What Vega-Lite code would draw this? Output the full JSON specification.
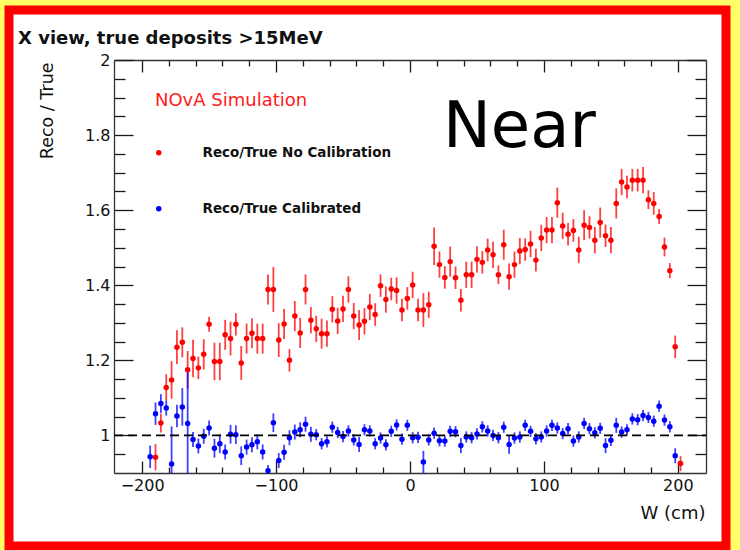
{
"$schema": "https://vega.github.io/schema/vega-lite/v6.json",
"autosize": {"type": "none"},
"width": 717,
"height": 536,
"padding": {"left": 9, "top": 10, "right": 14, "bottom": 4},
"background": "#ffff66",
"title": {"text": "X view, true deposits >15MeV", "anchor": "start", "frame": "group", "offset": -38, "dx": 9, "font": "DejaVu Sans", "fontSize": 18, "fontWeight": "bold", "color": "#111"},
"config": {
  "view": {"fill": "white", "stroke": "#ff0000", "strokeWidth": 9},
  "axis": {"grid": false, "labelFont": "DejaVu Sans", "labelFontSize": 16, "labelColor": "#111", "tickColor": "#1a1a1a", "tickWidth": 1.3, "domainColor": "#333", "domainWidth": 1.3, "titleFont": "DejaVu Sans", "titleFontSize": 17.5, "titleFontWeight": "normal", "titleColor": "#111", "labelFlush": false, "labelOverlap": false}
},
"datasets": {
  "main": [
{"W":-190,"ratio":0.942,"err":0.035,"series":"Reco/True No Calibration"},
{"W":-186,"ratio":1.033,"err":0.025,"series":"Reco/True No Calibration"},
{"W":-182,"ratio":1.128,"err":0.035,"series":"Reco/True No Calibration"},
{"W":-178,"ratio":1.148,"err":0.05,"series":"Reco/True No Calibration"},
{"W":-174,"ratio":1.235,"err":0.045,"series":"Reco/True No Calibration"},
{"W":-170,"ratio":1.248,"err":0.04,"series":"Reco/True No Calibration"},
{"W":-166,"ratio":1.175,"err":0.05,"series":"Reco/True No Calibration"},
{"W":-162,"ratio":1.205,"err":0.05,"series":"Reco/True No Calibration"},
{"W":-158,"ratio":1.18,"err":0.03,"series":"Reco/True No Calibration"},
{"W":-154,"ratio":1.216,"err":0.04,"series":"Reco/True No Calibration"},
{"W":-150,"ratio":1.296,"err":0.02,"series":"Reco/True No Calibration"},
{"W":-146,"ratio":1.197,"err":0.05,"series":"Reco/True No Calibration"},
{"W":-142,"ratio":1.197,"err":0.05,"series":"Reco/True No Calibration"},
{"W":-138,"ratio":1.268,"err":0.04,"series":"Reco/True No Calibration"},
{"W":-134,"ratio":1.258,"err":0.045,"series":"Reco/True No Calibration"},
{"W":-130,"ratio":1.296,"err":0.03,"series":"Reco/True No Calibration"},
{"W":-126,"ratio":1.193,"err":0.045,"series":"Reco/True No Calibration"},
{"W":-122,"ratio":1.258,"err":0.04,"series":"Reco/True No Calibration"},
{"W":-118,"ratio":1.272,"err":0.04,"series":"Reco/True No Calibration"},
{"W":-114,"ratio":1.258,"err":0.04,"series":"Reco/True No Calibration"},
{"W":-110,"ratio":1.258,"err":0.04,"series":"Reco/True No Calibration"},
{"W":-106,"ratio":1.389,"err":0.04,"series":"Reco/True No Calibration"},
{"W":-102,"ratio":1.389,"err":0.06,"series":"Reco/True No Calibration"},
{"W":-98,"ratio":1.254,"err":0.045,"series":"Reco/True No Calibration"},
{"W":-94,"ratio":1.297,"err":0.04,"series":"Reco/True No Calibration"},
{"W":-90,"ratio":1.2,"err":0.03,"series":"Reco/True No Calibration"},
{"W":-86,"ratio":1.318,"err":0.04,"series":"Reco/True No Calibration"},
{"W":-82,"ratio":1.273,"err":0.04,"series":"Reco/True No Calibration"},
{"W":-78,"ratio":1.389,"err":0.04,"series":"Reco/True No Calibration"},
{"W":-74,"ratio":1.307,"err":0.035,"series":"Reco/True No Calibration"},
{"W":-70,"ratio":1.284,"err":0.035,"series":"Reco/True No Calibration"},
{"W":-66,"ratio":1.271,"err":0.04,"series":"Reco/True No Calibration"},
{"W":-62,"ratio":1.271,"err":0.035,"series":"Reco/True No Calibration"},
{"W":-58,"ratio":1.336,"err":0.035,"series":"Reco/True No Calibration"},
{"W":-54,"ratio":1.305,"err":0.035,"series":"Reco/True No Calibration"},
{"W":-50,"ratio":1.337,"err":0.035,"series":"Reco/True No Calibration"},
{"W":-46,"ratio":1.389,"err":0.035,"series":"Reco/True No Calibration"},
{"W":-42,"ratio":1.318,"err":0.035,"series":"Reco/True No Calibration"},
{"W":-38,"ratio":1.294,"err":0.04,"series":"Reco/True No Calibration"},
{"W":-34,"ratio":1.304,"err":0.035,"series":"Reco/True No Calibration"},
{"W":-30,"ratio":1.342,"err":0.035,"series":"Reco/True No Calibration"},
{"W":-26,"ratio":1.322,"err":0.03,"series":"Reco/True No Calibration"},
{"W":-22,"ratio":1.399,"err":0.03,"series":"Reco/True No Calibration"},
{"W":-18,"ratio":1.362,"err":0.035,"series":"Reco/True No Calibration"},
{"W":-14,"ratio":1.39,"err":0.03,"series":"Reco/True No Calibration"},
{"W":-10,"ratio":1.386,"err":0.035,"series":"Reco/True No Calibration"},
{"W":-6,"ratio":1.334,"err":0.03,"series":"Reco/True No Calibration"},
{"W":-2,"ratio":1.365,"err":0.03,"series":"Reco/True No Calibration"},
{"W":2,"ratio":1.401,"err":0.035,"series":"Reco/True No Calibration"},
{"W":6,"ratio":1.334,"err":0.03,"series":"Reco/True No Calibration"},
{"W":10,"ratio":1.334,"err":0.045,"series":"Reco/True No Calibration"},
{"W":14,"ratio":1.348,"err":0.035,"series":"Reco/True No Calibration"},
{"W":18,"ratio":1.504,"err":0.05,"series":"Reco/True No Calibration"},
{"W":22,"ratio":1.455,"err":0.035,"series":"Reco/True No Calibration"},
{"W":26,"ratio":1.421,"err":0.03,"series":"Reco/True No Calibration"},
{"W":30,"ratio":1.463,"err":0.04,"series":"Reco/True No Calibration"},
{"W":34,"ratio":1.42,"err":0.03,"series":"Reco/True No Calibration"},
{"W":38,"ratio":1.36,"err":0.03,"series":"Reco/True No Calibration"},
{"W":42,"ratio":1.428,"err":0.035,"series":"Reco/True No Calibration"},
{"W":46,"ratio":1.428,"err":0.035,"series":"Reco/True No Calibration"},
{"W":50,"ratio":1.469,"err":0.035,"series":"Reco/True No Calibration"},
{"W":54,"ratio":1.461,"err":0.03,"series":"Reco/True No Calibration"},
{"W":58,"ratio":1.494,"err":0.03,"series":"Reco/True No Calibration"},
{"W":62,"ratio":1.481,"err":0.035,"series":"Reco/True No Calibration"},
{"W":66,"ratio":1.428,"err":0.025,"series":"Reco/True No Calibration"},
{"W":70,"ratio":1.508,"err":0.04,"series":"Reco/True No Calibration"},
{"W":74,"ratio":1.423,"err":0.035,"series":"Reco/True No Calibration"},
{"W":78,"ratio":1.455,"err":0.035,"series":"Reco/True No Calibration"},
{"W":82,"ratio":1.491,"err":0.035,"series":"Reco/True No Calibration"},
{"W":86,"ratio":1.495,"err":0.03,"series":"Reco/True No Calibration"},
{"W":90,"ratio":1.51,"err":0.035,"series":"Reco/True No Calibration"},
{"W":94,"ratio":1.467,"err":0.03,"series":"Reco/True No Calibration"},
{"W":98,"ratio":1.526,"err":0.035,"series":"Reco/True No Calibration"},
{"W":102,"ratio":1.547,"err":0.035,"series":"Reco/True No Calibration"},
{"W":106,"ratio":1.547,"err":0.035,"series":"Reco/True No Calibration"},
{"W":110,"ratio":1.62,"err":0.04,"series":"Reco/True No Calibration"},
{"W":114,"ratio":1.558,"err":0.035,"series":"Reco/True No Calibration"},
{"W":118,"ratio":1.536,"err":0.03,"series":"Reco/True No Calibration"},
{"W":122,"ratio":1.546,"err":0.03,"series":"Reco/True No Calibration"},
{"W":126,"ratio":1.494,"err":0.035,"series":"Reco/True No Calibration"},
{"W":130,"ratio":1.56,"err":0.04,"series":"Reco/True No Calibration"},
{"W":134,"ratio":1.554,"err":0.03,"series":"Reco/True No Calibration"},
{"W":138,"ratio":1.52,"err":0.035,"series":"Reco/True No Calibration"},
{"W":142,"ratio":1.567,"err":0.04,"series":"Reco/True No Calibration"},
{"W":146,"ratio":1.532,"err":0.03,"series":"Reco/True No Calibration"},
{"W":150,"ratio":1.52,"err":0.035,"series":"Reco/True No Calibration"},
{"W":154,"ratio":1.618,"err":0.04,"series":"Reco/True No Calibration"},
{"W":158,"ratio":1.675,"err":0.035,"series":"Reco/True No Calibration"},
{"W":162,"ratio":1.662,"err":0.03,"series":"Reco/True No Calibration"},
{"W":166,"ratio":1.68,"err":0.03,"series":"Reco/True No Calibration"},
{"W":170,"ratio":1.68,"err":0.03,"series":"Reco/True No Calibration"},
{"W":174,"ratio":1.68,"err":0.035,"series":"Reco/True No Calibration"},
{"W":178,"ratio":1.628,"err":0.025,"series":"Reco/True No Calibration"},
{"W":182,"ratio":1.618,"err":0.03,"series":"Reco/True No Calibration"},
{"W":186,"ratio":1.583,"err":0.02,"series":"Reco/True No Calibration"},
{"W":190,"ratio":1.502,"err":0.025,"series":"Reco/True No Calibration"},
{"W":194,"ratio":1.439,"err":0.02,"series":"Reco/True No Calibration"},
{"W":198,"ratio":1.236,"err":0.03,"series":"Reco/True No Calibration"},
{"W":202,"ratio":0.925,"err":0.02,"series":"Reco/True No Calibration"},
{"W":-194,"ratio":0.943,"err":0.03,"series":"Reco/True Calibrated"},
{"W":-190,"ratio":1.058,"err":0.03,"series":"Reco/True Calibrated"},
{"W":-186,"ratio":1.085,"err":0.025,"series":"Reco/True Calibrated"},
{"W":-182,"ratio":1.073,"err":0.02,"series":"Reco/True Calibrated"},
{"W":-178,"ratio":0.924,"err":0.1,"series":"Reco/True Calibrated"},
{"W":-174,"ratio":1.052,"err":0.03,"series":"Reco/True Calibrated"},
{"W":-170,"ratio":1.076,"err":0.05,"series":"Reco/True Calibrated"},
{"W":-166,"ratio":1.032,"err":0.14,"series":"Reco/True Calibrated"},
{"W":-162,"ratio":0.989,"err":0.02,"series":"Reco/True Calibrated"},
{"W":-158,"ratio":0.972,"err":0.02,"series":"Reco/True Calibrated"},
{"W":-154,"ratio":0.998,"err":0.02,"series":"Reco/True Calibrated"},
{"W":-150,"ratio":1.02,"err":0.02,"series":"Reco/True Calibrated"},
{"W":-146,"ratio":0.966,"err":0.025,"series":"Reco/True Calibrated"},
{"W":-142,"ratio":0.978,"err":0.025,"series":"Reco/True Calibrated"},
{"W":-138,"ratio":0.956,"err":0.02,"series":"Reco/True Calibrated"},
{"W":-134,"ratio":1.003,"err":0.025,"series":"Reco/True Calibrated"},
{"W":-130,"ratio":1.002,"err":0.025,"series":"Reco/True Calibrated"},
{"W":-126,"ratio":0.946,"err":0.025,"series":"Reco/True Calibrated"},
{"W":-122,"ratio":0.969,"err":0.02,"series":"Reco/True Calibrated"},
{"W":-118,"ratio":0.975,"err":0.02,"series":"Reco/True Calibrated"},
{"W":-114,"ratio":0.983,"err":0.02,"series":"Reco/True Calibrated"},
{"W":-110,"ratio":0.956,"err":0.02,"series":"Reco/True Calibrated"},
{"W":-106,"ratio":0.906,"err":0.015,"series":"Reco/True Calibrated"},
{"W":-102,"ratio":1.034,"err":0.025,"series":"Reco/True Calibrated"},
{"W":-98,"ratio":0.933,"err":0.02,"series":"Reco/True Calibrated"},
{"W":-94,"ratio":0.955,"err":0.02,"series":"Reco/True Calibrated"},
{"W":-90,"ratio":0.994,"err":0.02,"series":"Reco/True Calibrated"},
{"W":-86,"ratio":1.009,"err":0.02,"series":"Reco/True Calibrated"},
{"W":-82,"ratio":1.015,"err":0.02,"series":"Reco/True Calibrated"},
{"W":-78,"ratio":1.03,"err":0.02,"series":"Reco/True Calibrated"},
{"W":-74,"ratio":1.003,"err":0.02,"series":"Reco/True Calibrated"},
{"W":-70,"ratio":1.002,"err":0.015,"series":"Reco/True Calibrated"},
{"W":-66,"ratio":0.978,"err":0.015,"series":"Reco/True Calibrated"},
{"W":-62,"ratio":0.983,"err":0.015,"series":"Reco/True Calibrated"},
{"W":-58,"ratio":1.022,"err":0.015,"series":"Reco/True Calibrated"},
{"W":-54,"ratio":1.008,"err":0.015,"series":"Reco/True Calibrated"},
{"W":-50,"ratio":0.997,"err":0.015,"series":"Reco/True Calibrated"},
{"W":-46,"ratio":1.012,"err":0.015,"series":"Reco/True Calibrated"},
{"W":-42,"ratio":0.988,"err":0.015,"series":"Reco/True Calibrated"},
{"W":-38,"ratio":0.976,"err":0.02,"series":"Reco/True Calibrated"},
{"W":-34,"ratio":1.015,"err":0.015,"series":"Reco/True Calibrated"},
{"W":-30,"ratio":1.012,"err":0.015,"series":"Reco/True Calibrated"},
{"W":-26,"ratio":0.978,"err":0.015,"series":"Reco/True Calibrated"},
{"W":-22,"ratio":0.993,"err":0.015,"series":"Reco/True Calibrated"},
{"W":-18,"ratio":0.975,"err":0.015,"series":"Reco/True Calibrated"},
{"W":-14,"ratio":1.011,"err":0.015,"series":"Reco/True Calibrated"},
{"W":-10,"ratio":1.028,"err":0.015,"series":"Reco/True Calibrated"},
{"W":-6,"ratio":0.99,"err":0.015,"series":"Reco/True Calibrated"},
{"W":-2,"ratio":1.027,"err":0.015,"series":"Reco/True Calibrated"},
{"W":2,"ratio":0.994,"err":0.015,"series":"Reco/True Calibrated"},
{"W":6,"ratio":0.995,"err":0.015,"series":"Reco/True Calibrated"},
{"W":10,"ratio":0.929,"err":0.03,"series":"Reco/True Calibrated"},
{"W":14,"ratio":0.988,"err":0.015,"series":"Reco/True Calibrated"},
{"W":18,"ratio":1.006,"err":0.015,"series":"Reco/True Calibrated"},
{"W":22,"ratio":0.986,"err":0.015,"series":"Reco/True Calibrated"},
{"W":26,"ratio":0.985,"err":0.015,"series":"Reco/True Calibrated"},
{"W":30,"ratio":1.011,"err":0.015,"series":"Reco/True Calibrated"},
{"W":34,"ratio":1.01,"err":0.015,"series":"Reco/True Calibrated"},
{"W":38,"ratio":0.973,"err":0.02,"series":"Reco/True Calibrated"},
{"W":42,"ratio":0.996,"err":0.015,"series":"Reco/True Calibrated"},
{"W":46,"ratio":0.994,"err":0.015,"series":"Reco/True Calibrated"},
{"W":50,"ratio":1.004,"err":0.015,"series":"Reco/True Calibrated"},
{"W":54,"ratio":1.023,"err":0.015,"series":"Reco/True Calibrated"},
{"W":58,"ratio":1.012,"err":0.015,"series":"Reco/True Calibrated"},
{"W":62,"ratio":1.0,"err":0.015,"series":"Reco/True Calibrated"},
{"W":66,"ratio":0.994,"err":0.015,"series":"Reco/True Calibrated"},
{"W":70,"ratio":1.022,"err":0.015,"series":"Reco/True Calibrated"},
{"W":74,"ratio":0.976,"err":0.025,"series":"Reco/True Calibrated"},
{"W":78,"ratio":0.993,"err":0.015,"series":"Reco/True Calibrated"},
{"W":82,"ratio":0.996,"err":0.015,"series":"Reco/True Calibrated"},
{"W":86,"ratio":1.027,"err":0.015,"series":"Reco/True Calibrated"},
{"W":90,"ratio":1.011,"err":0.015,"series":"Reco/True Calibrated"},
{"W":94,"ratio":0.991,"err":0.015,"series":"Reco/True Calibrated"},
{"W":98,"ratio":0.996,"err":0.015,"series":"Reco/True Calibrated"},
{"W":102,"ratio":1.012,"err":0.015,"series":"Reco/True Calibrated"},
{"W":106,"ratio":1.027,"err":0.015,"series":"Reco/True Calibrated"},
{"W":110,"ratio":1.02,"err":0.015,"series":"Reco/True Calibrated"},
{"W":114,"ratio":1.005,"err":0.015,"series":"Reco/True Calibrated"},
{"W":118,"ratio":1.018,"err":0.015,"series":"Reco/True Calibrated"},
{"W":122,"ratio":0.985,"err":0.015,"series":"Reco/True Calibrated"},
{"W":126,"ratio":0.996,"err":0.015,"series":"Reco/True Calibrated"},
{"W":130,"ratio":1.032,"err":0.015,"series":"Reco/True Calibrated"},
{"W":134,"ratio":1.018,"err":0.015,"series":"Reco/True Calibrated"},
{"W":138,"ratio":1.007,"err":0.015,"series":"Reco/True Calibrated"},
{"W":142,"ratio":1.019,"err":0.015,"series":"Reco/True Calibrated"},
{"W":146,"ratio":0.973,"err":0.02,"series":"Reco/True Calibrated"},
{"W":150,"ratio":0.987,"err":0.015,"series":"Reco/True Calibrated"},
{"W":154,"ratio":1.027,"err":0.02,"series":"Reco/True Calibrated"},
{"W":158,"ratio":1.009,"err":0.015,"series":"Reco/True Calibrated"},
{"W":162,"ratio":1.015,"err":0.015,"series":"Reco/True Calibrated"},
{"W":166,"ratio":1.044,"err":0.015,"series":"Reco/True Calibrated"},
{"W":170,"ratio":1.042,"err":0.015,"series":"Reco/True Calibrated"},
{"W":174,"ratio":1.053,"err":0.015,"series":"Reco/True Calibrated"},
{"W":178,"ratio":1.048,"err":0.015,"series":"Reco/True Calibrated"},
{"W":182,"ratio":1.038,"err":0.015,"series":"Reco/True Calibrated"},
{"W":186,"ratio":1.078,"err":0.015,"series":"Reco/True Calibrated"},
{"W":190,"ratio":1.041,"err":0.015,"series":"Reco/True Calibrated"},
{"W":194,"ratio":1.023,"err":0.015,"series":"Reco/True Calibrated"},
{"W":198,"ratio":0.946,"err":0.02,"series":"Reco/True Calibrated"}
  ]
},
"resolve": {"axis": {"x": "independent", "y": "independent"}},
"layer": [
  {
    "data": {"name": "main"},
    "transform": [{"filter": "datum.series === 'Reco/True No Calibration'"}],
    "mark": {"type": "errorbar", "thickness": 1.8, "opacity": 0.75, "color": "#ff0000"},
    "encoding": {
      "x": {"field": "W", "type": "quantitative",
        "scale": {"domain": [-221, 221], "range": [105, 697], "nice": false, "zero": false},
        "axis": {"orient": "bottom", "offset": -73, "values": [-200,-180,-160,-140,-120,-100,-80,-60,-40,-20,0,20,40,60,80,100,120,140,160,180,200],
          "tickSize": {"condition": {"test": "datum.value % 100 === 0", "value": -12}, "value": -6},
          "format": "d", "labelExpr": "datum.value % 100 === 0 ? datum.label : ''", "labelPadding": 16,
          "title": "W (cm)", "titleX": 696, "titleY": 45, "titleAlign": "right", "titleAnchor": "end", "titleBaseline": "alphabetic", "titleFontSize": 18}},
      "y": {"field": "ratio", "type": "quantitative",
        "scale": {"domain": [0.9, 2], "range": [463, 50], "nice": false, "zero": false, "clamp": true},
        "axis": {"orient": "left", "offset": -105, "values": [0.95,1,1.05,1.1,1.15,1.2,1.25,1.3,1.35,1.4,1.45,1.5,1.55,1.6,1.65,1.7,1.75,1.8,1.85,1.9,1.95,2],
          "tickSize": {"condition": {"test": "abs(datum.value*5 - round(datum.value*5)) < 0.000001", "value": -19}, "value": -11},
          "format": ".2~f", "labelExpr": "abs(datum.value*5 - round(datum.value*5)) < 0.000001 ? datum.label : ''", "labelPadding": 23,
          "title": "Reco / True", "titleX": -62, "titleY": 52, "titleAngle": 270, "titleAlign": "right", "titleAnchor": "end", "titleBaseline": "alphabetic"}},
      "yError": {"field": "err"}
    }
  },
  {
    "data": {"name": "main"},
    "transform": [{"filter": "datum.series === 'Reco/True Calibrated'"}],
    "mark": {"type": "errorbar", "thickness": 1.8, "opacity": 0.75, "color": "#0000ff"},
    "encoding": {
      "x": {"field": "W", "type": "quantitative", "axis": null},
      "y": {"field": "ratio", "type": "quantitative", "axis": null},
      "yError": {"field": "err"}
    }
  },
  {
    "data": {"name": "main"},
    "mark": {"type": "point", "filled": true, "shape": "circle", "size": 30, "opacity": 1},
    "encoding": {
      "x": {"field": "W", "type": "quantitative",
        "scale": {"domain": [-221, 221], "range": [105, 697], "nice": false, "zero": false},
        "axis": {"orient": "top", "offset": -50, "values": [-200,-180,-160,-140,-120,-100,-80,-60,-40,-20,0,20,40,60,80,100,120,140,160,180,200],
          "tickSize": {"condition": {"test": "datum.value % 100 === 0", "value": -12}, "value": -6},
          "labels": false, "title": null}},
      "y": {"field": "ratio", "type": "quantitative",
        "scale": {"domain": [0.9, 2], "range": [463, 50], "nice": false, "zero": false, "clamp": true},
        "axis": {"orient": "right", "offset": -20, "values": [0.95,1,1.05,1.1,1.15,1.2,1.25,1.3,1.35,1.4,1.45,1.5,1.55,1.6,1.65,1.7,1.75,1.8,1.85,1.9,1.95,2],
          "tickSize": {"condition": {"test": "abs(datum.value*5 - round(datum.value*5)) < 0.000001", "value": -19}, "value": -11},
          "labels": false, "title": null}},
      "color": {"field": "series", "type": "nominal",
        "scale": {"domain": ["Reco/True No Calibration", "Reco/True Calibrated"], "range": ["#ff0000", "#0000ff"]},
        "legend": {"orient": "none", "legendX": 143, "legendY": 136, "title": null, "padding": 0,
          "symbolType": "circle", "symbolSize": 30, "symbolStrokeWidth": 0,
          "labelFont": "DejaVu Sans", "labelFontSize": 13.5, "labelFontWeight": "bold", "labelColor": "#111",
          "labelLimit": 400, "labelOffset": 37, "rowPadding": 41}}
    }
  },
  {
    "data": {"values": [{"level": 1}]},
    "mark": {"type": "rule", "color": "#000", "strokeWidth": 1.8, "strokeDash": [9, 5]},
    "encoding": {
      "x": {"datum": -221, "axis": null},
      "x2": {"datum": 221},
      "y": {"field": "level", "type": "quantitative", "axis": null}
    }
  },
  {
    "data": {"values": [{"label": "NOvA Simulation", "W": -190.4, "ratio": 1.877}]},
    "mark": {"type": "text", "align": "left", "baseline": "alphabetic", "font": "DejaVu Sans", "fontSize": 18, "color": "#ff2020"},
    "encoding": {
      "x": {"field": "W", "type": "quantitative", "axis": null},
      "y": {"field": "ratio", "type": "quantitative", "axis": null},
      "text": {"field": "label"}
    }
  },
  {
    "data": {"values": [{"label": "Near", "W": 24.6, "ratio": 1.768}]},
    "mark": {"type": "text", "align": "left", "baseline": "alphabetic", "font": "DejaVu Sans", "fontSize": 64, "color": "#000"},
    "encoding": {
      "x": {"field": "W", "type": "quantitative", "axis": null},
      "y": {"field": "ratio", "type": "quantitative", "axis": null},
      "text": {"field": "label"}
    }
  }
]
}
